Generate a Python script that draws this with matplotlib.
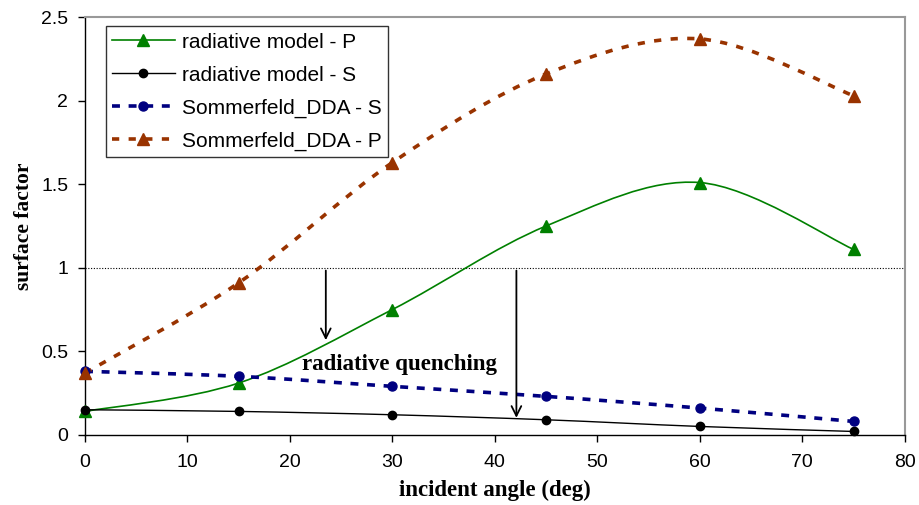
import matplotlib.pyplot as plt
from matplotlib.path import Path
from matplotlib.patches import PathPatch
from matplotlib.lines import Line2D

angle = [0, 15, 30, 45, 60, 75]
rad_p = [0.14, 0.31, 0.75, 1.25, 1.51, 1.11]
rad_s = [0.15, 0.14, 0.12, 0.09, 0.05, 0.02]
dda_s = [0.38, 0.35, 0.29, 0.23, 0.16, 0.08]
dda_p = [0.37, 0.91, 1.63, 2.16, 2.37, 2.03]

labels = ['radiative model - P', 'radiative model - S',
          'Sommerfeld_DDA - S', 'Sommerfeld_DDA - P']


def smooth_path(x, y):
    # Excel-style smoothed line: cubic Bezier segments through the points
    n = len(x)
    verts = [(x[0], y[0])]
    codes = [Path.MOVETO]
    for i in range(n - 1):
        i0 = max(i - 1, 0)
        i3 = min(i + 2, n - 1)
        c1 = (x[i] + (x[i + 1] - x[i0]) / 6, y[i] + (y[i + 1] - y[i0]) / 6)
        c2 = (x[i + 1] - (x[i3] - x[i]) / 6, y[i + 1] - (y[i3] - y[i]) / 6)
        verts += [c1, c2, (x[i + 1], y[i + 1])]
        codes += [Path.CURVE4] * 3
    return Path(verts, codes)


fig = plt.figure(figsize=(9.19, 5.05), dpi=100)
ax = fig.add_axes([0.0925, 0.139, 0.892, 0.827])

styles = [
    (rad_p, dict(color='#008000', lw=1.2, ls='-'), dict(marker='^', ms=9)),
    (rad_s, dict(color='black', lw=1.0, ls='-'), dict(marker='o', ms=6)),
    (dda_s, dict(color='#000080', lw=2.6, ls=(0, (2.2, 2.4))), dict(marker='o', ms=6.5)),
    (dda_p, dict(color='#993300', lw=2.6, ls=(0, (2.0, 2.6))), dict(marker='^', ms=9)),
]

handles = []
for (vals, lstyle, mstyle), lab in zip(styles, labels):
    patch = PathPatch(smooth_path(angle, vals), fill=False, edgecolor=lstyle['color'],
                      lw=lstyle['lw'], linestyle=lstyle['ls'], capstyle='butt', zorder=2)
    ax.add_patch(patch)
    ax.plot(angle, vals, linestyle='none', color=lstyle['color'],
            markeredgecolor=lstyle['color'], clip_on=False, zorder=3, **mstyle)
    handles.append(Line2D([], [], color=lstyle['color'], lw=lstyle['lw'], ls=lstyle['ls'],
                          markeredgecolor=lstyle['color'], **mstyle))

ax.axhline(1.0, color='black', lw=0.8, ls=(0, (1, 1.5)), zorder=1)

ax.annotate('', xy=(23.5, 0.55), xytext=(23.5, 1.0),
            arrowprops=dict(arrowstyle='->,head_width=0.35,head_length=0.7', color='black', lw=1.3))
ax.annotate('', xy=(42.1, 0.085), xytext=(42.1, 1.0),
            arrowprops=dict(arrowstyle='->,head_width=0.35,head_length=0.7', color='black', lw=1.3))
ax.text(21.2, 0.42, 'radiative quenching', family='Liberation Serif', fontsize=16.5,
        fontweight='bold', va='center', ha='left')

ax.set_xlim(0, 80)
ax.set_ylim(0, 2.5)
ax.set_xticks(range(0, 81, 10))
ax.set_yticks([0, 0.5, 1, 1.5, 2, 2.5])
ax.set_yticklabels(['0', '0.5', '1', '1.5', '2', '2.5'])
ax.tick_params(labelsize=14, direction='out', length=5, width=1)
ax.tick_params(axis='y', pad=7)
ax.tick_params(axis='x', pad=9)
for lab in ax.get_xticklabels() + ax.get_yticklabels():
    lab.set_family('Liberation Sans')

for side in ['top', 'right']:
    ax.spines[side].set_color('#999999')
    ax.spines[side].set_linewidth(1.5)
for side in ['left', 'bottom']:
    ax.spines[side].set_color('black')
    ax.spines[side].set_linewidth(1.0)

ax.set_xlabel('incident angle (deg)', family='Liberation Serif', fontsize=16.5,
              fontweight='bold', labelpad=6)
ax.set_ylabel('surface factor', family='Liberation Serif', fontsize=15.5,
              fontweight='bold', labelpad=5)

leg = ax.legend(handles, labels, loc='upper left', bbox_to_anchor=(0.0256, 0.978),
                borderaxespad=0, prop=dict(family='Liberation Sans', size=15), frameon=True,
                fancybox=False, handlelength=3.0, borderpad=0.3, labelspacing=0.67,
                handletextpad=0.35)
leg.get_frame().set_edgecolor('black')
leg.get_frame().set_linewidth(1.0)

fig.savefig('out.png', dpi=100)
